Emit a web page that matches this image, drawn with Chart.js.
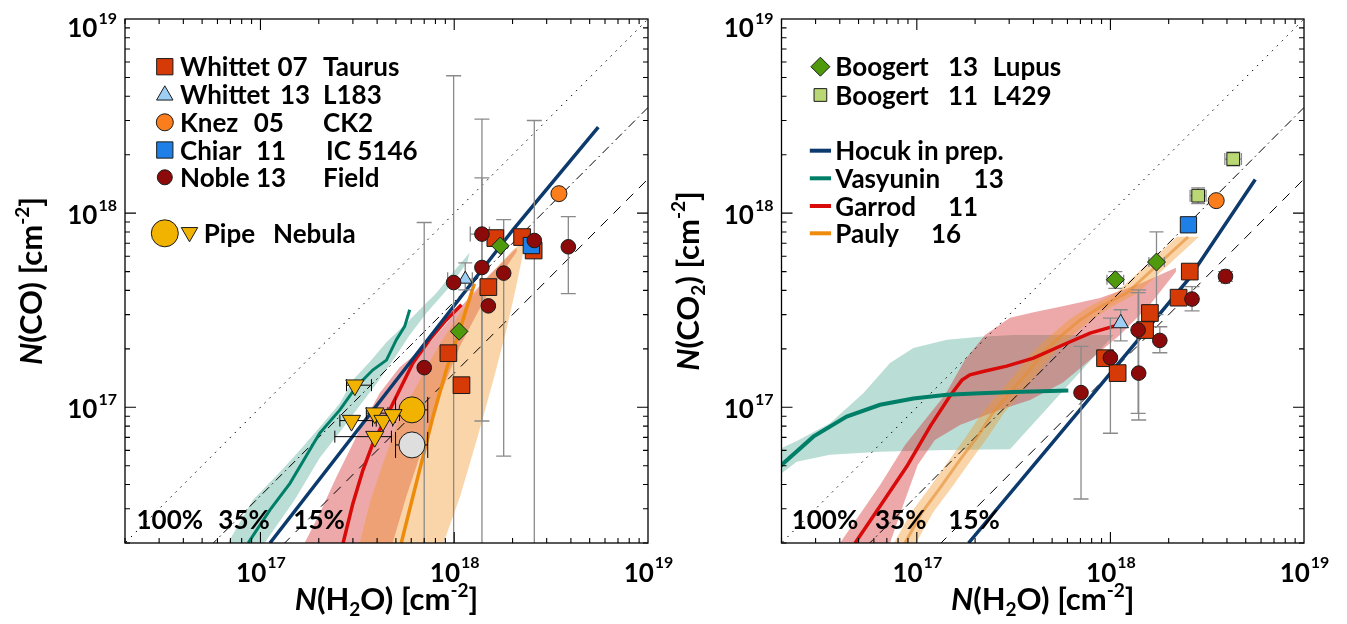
<!DOCTYPE html>
<html>
<head>
<meta charset="utf-8">
<script src="https://cdn.jsdelivr.net/npm/chart.js@4.4.1/dist/chart.umd.min.js"></script>
<style>
  html, body { margin: 0; padding: 0; background: #fff; }
  #wrap { position: relative; width: 1347px; height: 624px; overflow: hidden; }
  canvas { position: absolute; top: 0; }
  #chart-co { left: 0; }
  #chart-co2 { left: 660px; }
</style>
</head>
<body>
<div id="wrap">
  <canvas id="chart-co" width="690" height="624"></canvas>
  <canvas id="chart-co2" width="687" height="624"></canvas>
</div>
<script>
'use strict';

// both panels: log axes, same range
var axisMin = 2e16, axisMax = 1e19;
var tickValues = [1e17, 1e18, 1e19];
var tickExps = ['17', '18', '19'];

// reference lines N(X) = 100%, 35%, 15% of N(H2O)
var ratioX = [1e16, 1e19];
var ratio100 = [1e16, 1e19];
var ratio35 = [3.5e15, 3.5e18];
var ratio15 = [1.5e15, 1.5e18];
var ratioLabels = ['100%', '35%', '15%'];

// ---------- left panel: N(CO) vs N(H2O) ----------
var whittet07Co = [[1.63e18, 7.44e17], [2.24e18, 7.53e17], [2.57e18, 6.42e17], [1.50e18, 4.16e17], [9.33e17, 1.90e17], [1.09e18, 1.30e17]];
var whittet13Co = [[1.14e18, 4.57e17]];
var whittet13CoErrY = [[4.03e17, 5.55e17]];
var whittet13CoErrX = [[9.25e17, 1.24e18]];
var knezCo = [[3.47e18, 1.26e18]];
var chiarCo = [[2.50e18, 6.81e17]];
var nobleCo = [[1.39e18, 7.80e17], [2.59e18, 7.23e17], [3.88e18, 6.71e17], [1.39e18, 5.25e17], [1.80e18, 4.91e17], [9.93e17, 4.39e17], [1.50e18, 3.33e17], [7.0e17, 1.60e17]];
var nobleCoErrY = [[8.5e16, 1.52e18], [1e16, 3.0e18], [3.85e17, 9.6e17], [1e16, 3.05e18], [5.6e16, 9.25e17], [1e16, 5.1e18], null, [1e16, 8.95e17]];
var nobleCoErrX = [[1.21e18, 1.52e18], null, null, null, null, null, null, null];
var boogert13Co = [[1.73e18, 6.79e17], [1.06e18, 2.46e17]];
var pipeCo = [[6.05e17, 9.7e16]];
var pipeCoGrey = [[6.05e17, 6.40e16]];
var pipeCoErrX = [[4.98e17, 7.3e17]];
var pipeTriCo = [[3.07e17, 1.30e17], [2.95e17, 8.54e16], [3.89e17, 9.33e16], [4.29e17, 8.54e16], [4.83e17, 9.14e16], [3.89e17, 7.06e16]];
var pipeTriCoErrX = [[2.78e17, 3.74e17], [2.57e17, 3.96e17], [3.52e17, 4.55e17], [3.79e17, 4.81e17], [4.47e17, 5.22e17], [2.42e17, 4.74e17]];

var hocukCo = [[1.12e17, 2.0e16], [2.01e18, 8.21e17], [5.54e18, 2.77e18]];
var vasyuninCo = [[8.64e16, 2.0e16], [1.12e17, 2.96e16], [1.42e17, 4.06e16], [2.02e17, 7.35e16], [2.57e17, 9.7e16], [3.13e17, 1.28e17], [3.81e17, 1.56e17], [4.47e17, 1.75e17], [5.03e17, 2.23e17], [5.55e17, 2.61e17], [5.89e17, 3.18e17]];
var garrodCo = [[2.67e17, 2.0e16], [3.0e17, 3.2e16], [3.38e17, 4.75e16], [3.81e17, 6.53e16], [4.47e17, 8.95e16], [5.23e17, 1.23e17], [6.12e17, 1.69e17], [7.46e17, 2.23e17], [9.10e17, 2.82e17], [1.09e18, 3.37e17]];
var paulyCo = [[5.33e17, 2.0e16], [6.12e17, 3.47e16], [6.90e17, 5.57e16], [7.77e17, 8.95e16], [9.10e17, 1.56e17], [1.07e18, 2.51e17], [1.18e18, 3.44e17], [1.27e18, 4.33e17]];

// model spreads, outline traced round each shaded area
var vasyuninCoBand = [[6.79e16, 2.0e16], [9.14e16, 3.33e16], [1.29e17, 4.75e16], [1.60e17, 6.03e16], [2.07e17, 8.11e16], [2.57e17, 1.05e17], [2.99e17, 1.38e17], [3.66e17, 1.71e17], [4.48e17, 2.17e17], [5.68e17, 2.72e17], [6.63e17, 3.18e17], [8.11e17, 3.89e17], [9.81e17, 4.93e17], [1.20e18, 6.25e17],
  [1.17e18, 5.61e17], [9.47e17, 4.18e17], [7.21e17, 3.07e17], [5.89e17, 2.36e17], [4.93e17, 1.80e17], [4.03e17, 1.35e17], [3.25e17, 1.02e17], [2.57e17, 7.46e16], [2.02e17, 5.48e16], [1.50e17, 3.33e16], [1.05e17, 2.0e16]];
var garrodCoBand = [[1.69e17, 2.0e16], [2.02e17, 2.84e16], [2.47e17, 4.39e16], [3.25e17, 7.64e16], [4.12e17, 1.18e17], [5.23e17, 1.61e17], [7.46e17, 2.15e17], [1.07e18, 3.25e17], [1.52e18, 4.81e17], [2.10e18, 6.63e17],
  [2.10e18, 6.32e17], [1.46e18, 3.72e17], [1.07e18, 2.06e17], [8.41e17, 1.14e17], [6.90e17, 6.27e16], [5.66e17, 3.47e16], [4.81e17, 2.0e16]];
var paulyCoBand = [[3.25e17, 2.0e16], [3.66e17, 3.21e16], [4.29e17, 5.15e16], [5.23e17, 8.95e16], [6.63e17, 1.38e17], [8.08e17, 1.98e17], [1.07e18, 3.07e17], [1.46e18, 4.54e17], [2.01e18, 6.47e17], [2.22e18, 6.95e17],
  [2.31e18, 6.79e17], [2.07e18, 4.03e17], [1.86e18, 2.51e17], [1.61e18, 1.44e17], [1.32e18, 7.03e16], [1.07e18, 3.45e16], [8.81e17, 2.0e16]];

// ---------- right panel: N(CO2) vs N(H2O) ----------
var whittet07Co2 = [[2.57e18, 5.0e17], [2.25e18, 3.67e17], [1.60e18, 3.06e17], [1.51e18, 2.5e17], [9.38e17, 1.79e17], [1.09e18, 1.50e17]];
var whittet13Co2 = [[1.13e18, 2.71e17]];
var whittet13Co2ErrY = [[2.2e17, 3.18e17]];
var knezCo2 = [[3.52e18, 1.16e18]];
var chiarCo2 = [[2.53e18, 8.71e17]];
var nobleCo2 = [[3.93e18, 4.72e17], [2.64e18, 3.61e17], [1.39e18, 2.5e17], [1.80e18, 2.21e17], [1.00e18, 1.80e17], [1.40e18, 1.50e17], [7.05e17, 1.19e17]];
var nobleCo2ErrY = [[4.45e17, 5.0e17], [3.14e17, 4.18e17], [9.3e16, 3.9e17], [1.91e17, 2.6e17], [7.35e16, 2.88e17], [8.6e16, 4.03e17], [3.37e16, 2.06e17]];
var nobleCo2ErrX = [[3.75e18, 4.12e18], null, null, null, null, null, null];
var boogert13Co2 = [[1.73e18, 5.6e17], [1.06e18, 4.54e17]];
var boogert13Co2ErrY = [[3.0e17, 8.0e17], [4.1e17, 5.0e17]];
var boogert13Co2ErrX = [[1.58e18, 1.9e18], [9.6e17, 1.17e18]];
var boogert11Co2 = [[4.31e18, 1.90e18], [2.84e18, 1.23e18]];
var boogert11Co2ErrY = [[1.75e18, 2.06e18], [1.12e18, 1.35e18]];
var boogert11Co2ErrX = [[3.9e18, 4.75e18], [2.58e18, 3.12e18]];

var hocukCo2 = [[1.85e17, 2.0e16], [6.96e17, 9.7e16], [2.52e18, 4.54e17], [5.6e18, 1.49e18]];
var vasyuninCo2 = [[1.96e16, 4.95e16], [2.92e16, 7.06e16], [4.34e16, 8.95e16], [6.46e16, 1.03e17], [9.6e16, 1.11e17], [1.43e17, 1.16e17], [2.12e17, 1.18e17], [3.15e17, 1.20e17], [6.06e17, 1.22e17]];
var garrodCo2 = [[4.80e16, 2.0e16], [6.44e16, 3.08e16], [8.87e16, 4.95e16], [1.17e17, 7.95e16], [1.48e17, 1.14e17], [1.71e17, 1.38e17], [1.88e17, 1.47e17], [2.20e17, 1.53e17], [2.91e17, 1.63e17], [4.0e17, 1.79e17], [5.71e17, 2.10e17], [7.85e17, 2.41e17], [1.08e18, 2.64e17]];
var paulyCo2 = [[8.69e16, 2.0e16], [1.06e17, 2.86e16], [1.33e17, 3.89e16], [1.67e17, 5.36e16], [2.05e17, 7.03e16], [2.47e17, 9.35e16], [3.03e17, 1.19e17], [3.71e17, 1.50e17], [4.49e17, 1.91e17], [5.49e17, 2.31e17], [6.98e17, 2.82e17], [8.85e17, 3.29e17], [1.22e18, 3.89e17], [2.52e18, 7.55e17]];

var vasyuninCo2Band = [[1.9e16, 6.03e16], [2.40e16, 6.71e16], [3.56e16, 8.28e16], [5.29e16, 1.18e17], [7.27e16, 1.69e17], [9.6e16, 2.02e17], [1.43e17, 2.23e17], [2.12e17, 2.31e17], [3.15e17, 2.36e17], [5.94e17, 2.36e17], [1.04e18, 2.36e17],
  [3.03e17, 6.08e16], [1.43e17, 6.03e16], [6.46e16, 5.91e16], [3.56e16, 5.69e16], [2.40e16, 5.25e16], [1.9e16, 4.39e16]];
var garrodCo2Band = [[4.01e16, 2.0e16], [6.46e16, 3.98e16], [8.69e16, 6.40e16], [1.10e17, 8.61e16], [1.40e17, 1.16e17], [1.77e17, 1.75e17], [2.25e17, 2.36e17], [3.03e17, 2.89e17], [4.07e17, 3.10e17], [5.82e17, 3.33e17], [8.83e17, 3.66e17], [1.42e18, 4.33e17], [2.18e18, 5.23e17],
  [2.18e18, 4.99e17], [1.60e18, 3.37e17], [1.12e18, 2.36e17], [7.85e17, 1.75e17], [5.69e17, 1.34e17], [3.85e17, 1.09e17], [2.69e17, 9.7e16], [1.67e17, 8.11e16], [1.24e17, 6.79e16], [1.01e17, 5.05e16], [8.69e16, 3.33e16], [7.27e16, 2.0e16]];
var paulyCo2Band = [[7.62e16, 2.0e16], [9.33e16, 2.86e16], [1.17e17, 3.89e16], [1.47e17, 5.36e16], [1.79e17, 7.03e16], [2.17e17, 9.35e16], [2.66e17, 1.19e17], [3.25e17, 1.50e17], [3.94e17, 1.91e17], [4.82e17, 2.31e17], [6.07e17, 2.82e17], [7.69e17, 3.29e17], [1.07e18, 3.89e17], [2.21e18, 7.55e17],
  [2.87e18, 7.55e17], [1.39e18, 3.89e17], [1.01e18, 3.29e17], [7.94e17, 2.82e17], [6.25e17, 2.31e17], [5.12e17, 1.91e17], [4.23e17, 1.50e17], [3.45e17, 1.19e17], [2.82e17, 9.35e16], [2.33e17, 7.03e16], [1.91e17, 5.36e16], [1.52e17, 3.89e16], [1.21e17, 2.86e16], [9.91e16, 2.0e16]];

// colours
var colWhittet07 = '#D63A06', colWhittet13 = '#9DCFF5', colKnez = '#FB7D1C', colChiar = '#1E80E6', colNoble = '#8C0A0A';
var colBoogert13 = '#4F9A0C', colBoogert11 = '#B9D873', colPipe = '#F2B300', colPipeGrey = '#DEDEDE';
var colHocuk = '#0D3A6C', colVasyunin = '#007F68', colGarrod = '#D80A0A', colPauly = '#EE8A0C';

var FONT = 'Lato, "DejaVu Sans", sans-serif';

function xy(pairs) {
  return pairs.map(function(p) { return {x: p[0], y: p[1]}; });
}
function zip(xs, ys) {
  return xs.map(function(x, i) { return [x, ys[i]]; });
}

function marks(label, pairs, style, color, radius, rot) {
  return {
    label: label, data: xy(pairs), showLine: false,
    pointStyle: style, pointRadius: radius, pointRotation: rot || 0,
    pointBackgroundColor: color, pointBorderColor: '#1a1a1a', pointBorderWidth: 1,
    order: 1
  };
}
function curve(label, pairs, color, width) {
  return {label: label, data: xy(pairs), borderColor: color, borderWidth: width, pointRadius: 0, fill: false, order: 3};
}
function band(label, pairs, color) {
  return {label: label, data: xy(pairs), borderColor: 'rgba(0,0,0,0)', borderWidth: 0, backgroundColor: color, pointRadius: 0, fill: 'shape', order: 5};
}
function ratioLine(label, ys, dash) {
  return {label: label, data: xy(zip(ratioX, ys)), borderColor: '#000', borderWidth: 1, borderDash: dash, pointRadius: 0, fill: false, order: 4};
}

function symbol(ctx, style, color, r, rot, x, y) {
  ctx.fillStyle = color;
  ctx.strokeStyle = '#1a1a1a';
  ctx.lineWidth = 1;
  Chart.helpers.drawPoint(ctx, {pointStyle: style, radius: r, rotation: rot || 0, borderWidth: 1}, x, y);
}

// draw a run of text pieces: [text, kind], kind '' | 'i' | 'sup' | 'sub'
function richText(ctx, parts, x, y, size) {
  function font(kind) {
    var s = (kind === 'sup' || kind === 'sub') ? Math.round(size * 0.6) : size;
    return (kind === 'i' ? 'italic ' : '') + 'bold ' + s + 'px ' + FONT;
  }
  var widths = parts.map(function(p) { ctx.font = font(p[1]); return ctx.measureText(p[0]).width; });
  var total = widths.reduce(function(s, w) { return s + w; }, 0);
  var cx = x - total / 2;
  ctx.textAlign = 'left';
  ctx.textBaseline = 'alphabetic';
  parts.forEach(function(p, i) {
    ctx.font = font(p[1]);
    var dy = p[1] === 'sup' ? -size * 0.42 : (p[1] === 'sub' ? size * 0.2 : 0);
    ctx.fillText(p[0], cx, y + dy);
    cx += widths[i];
  });
}

function drawErrBars(chart, sets) {
  var ctx = chart.ctx, a = chart.chartArea, xs = chart.scales.x, ys = chart.scales.y;
  ctx.save();
  ctx.beginPath();
  ctx.rect(a.left, a.top, a.right - a.left, a.bottom - a.top);
  ctx.clip();
  sets.forEach(function(s) {
    ctx.strokeStyle = s.color;
    ctx.lineWidth = s.width;
    s.points.forEach(function(p, i) {
      var px = xs.getPixelForValue(p[0]), py = ys.getPixelForValue(p[1]);
      var ey = s.errY ? s.errY[i] : null, ex = s.errX ? s.errX[i] : null;
      ctx.beginPath();
      if (ey) {
        var y0 = ys.getPixelForValue(ey[0]), y1 = ys.getPixelForValue(ey[1]);
        ctx.moveTo(px, y0); ctx.lineTo(px, y1);
        ctx.moveTo(px - s.cap, y0); ctx.lineTo(px + s.cap, y0);
        ctx.moveTo(px - s.cap, y1); ctx.lineTo(px + s.cap, y1);
      }
      if (ex) {
        var x0 = xs.getPixelForValue(ex[0]), x1 = xs.getPixelForValue(ex[1]);
        var c = s.capX || s.cap;
        ctx.moveTo(x0, py); ctx.lineTo(x1, py);
        ctx.moveTo(x0, py - c); ctx.lineTo(x0, py + c);
        ctx.moveTo(x1, py - c); ctx.lineTo(x1, py + c);
      }
      ctx.stroke();
    });
  });
  ctx.restore();
}

function drawFrame(chart, cfg) {
  var ctx = chart.ctx, a = chart.chartArea, xs = chart.scales.x, ys = chart.scales.y;
  ctx.save();
  ctx.strokeStyle = '#000';
  ctx.lineWidth = 1.3;
  ctx.strokeRect(a.left, a.top, a.right - a.left, a.bottom - a.top);

  // inward ticks on all four sides
  ctx.lineWidth = 1.1;
  ctx.beginPath();
  for (var d = 16; d <= 18; d++) {
    for (var m = 1; m <= 9; m++) {
      var v = m * Math.pow(10, d);
      if (v < axisMin * 0.999 || v > axisMax * 1.001) continue;
      var len = m === 1 ? 11 : 5;
      var px = xs.getPixelForValue(v), py = ys.getPixelForValue(v);
      ctx.moveTo(px, a.bottom); ctx.lineTo(px, a.bottom - len);
      ctx.moveTo(px, a.top); ctx.lineTo(px, a.top + len);
      ctx.moveTo(a.left, py); ctx.lineTo(a.left + len, py);
      ctx.moveTo(a.right, py); ctx.lineTo(a.right - len, py);
    }
  }
  ctx.stroke();

  // decade labels 10^n
  ctx.fillStyle = '#000';
  ctx.textBaseline = 'alphabetic';
  var baseFont = 'bold 26px ' + FONT, supFont = 'bold 16px ' + FONT;
  tickValues.forEach(function(v, i) {
    ctx.font = baseFont;
    var wb = ctx.measureText('10').width;
    ctx.font = supFont;
    var ws = ctx.measureText(tickExps[i]).width;
    var px = xs.getPixelForValue(v);
    var x0 = px - (wb + ws) / 2;
    ctx.textAlign = 'left';
    ctx.font = baseFont; ctx.fillText('10', x0, a.bottom + 39);
    ctx.font = supFont; ctx.fillText(tickExps[i], x0 + wb + 1, a.bottom + 25);

    var py = ys.getPixelForValue(v);
    var base = Math.max(py + 11, a.top + 18);
    var xr = a.left - 8;
    ctx.font = supFont; ctx.fillText(tickExps[i], xr - ws, base - 13);
    ctx.font = baseFont; ctx.fillText('10', xr - ws - wb - 1, base);
  });

  // axis titles
  richText(ctx, [['N', 'i'], ['(H', ''], ['2', 'sub'], ['O) [cm', ''], ['-2', 'sup'], [']', '']], (a.left + a.right) / 2, a.bottom + 67, 31);
  ctx.save();
  ctx.translate(a.left - 83, (a.top + a.bottom) / 2);
  ctx.rotate(-Math.PI / 2);
  richText(ctx, cfg.yTitle, 0, 0, 31);
  ctx.restore();

  // ratio line labels
  ctx.font = 'bold 26px ' + FONT;
  ctx.textAlign = 'left';
  ratioLabels.forEach(function(t, i) {
    ctx.fillText(t, a.left + cfg.ratioLabelX[i], a.bottom - 14);
  });

  // legend
  cfg.legend.forEach(function(it) {
    var y = a.top + it.dy;
    if (it.line) {
      ctx.strokeStyle = it.color;
      ctx.lineWidth = 4;
      ctx.beginPath();
      ctx.moveTo(a.left + it.line[0], y); ctx.lineTo(a.left + it.line[1], y);
      ctx.stroke();
    }
    (it.syms || []).forEach(function(s) {
      symbol(ctx, s.style, s.color, s.r, s.rot, a.left + s.dx, y + (s.dy || 0));
    });
    ctx.fillStyle = '#000';
    ctx.font = 'bold 26px ' + FONT;
    ctx.textAlign = 'left';
    it.parts.forEach(function(p) { ctx.fillText(p[0], a.left + p[1], y + 9.5); });
  });
  ctx.restore();
}

function makePanel(id, padLeft, padRight, datasets, errSets, cfg) {
  datasets.push({label: 'errbars', data: [], order: 2});
  var panelPlugin = {
    id: 'panel-' + id,
    afterDatasetDraw: function(chart, args) {
      if (chart.data.datasets[args.index].label === 'errbars') drawErrBars(chart, errSets);
    },
    afterDraw: function(chart) { drawFrame(chart, cfg); }
  };
  return new Chart(document.getElementById(id).getContext('2d'), {
    type: 'line',
    data: {datasets: datasets},
    options: {
      responsive: false,
      animation: false,
      events: [],
      layout: {padding: {left: padLeft, right: padRight, top: 19, bottom: 81}},
      elements: {line: {tension: 0}},
      scales: {
        x: {type: 'logarithmic', min: axisMin, max: axisMax, display: false},
        y: {type: 'logarithmic', min: axisMin, max: axisMax, display: false}
      },
      plugins: {legend: {display: false}, tooltip: {enabled: false}}
    },
    plugins: [panelPlugin]
  });
}

// ---------- left panel ----------
makePanel('chart-co', 125, 42, [
  marks('Noble 13', nobleCo, 'circle', colNoble, 7.3),
  marks('Chiar 11', chiarCo, 'rect', colChiar, 11.5),
  marks('Knez 05', knezCo, 'circle', colKnez, 8),
  marks('Whittet 13', whittet13Co, 'triangle', colWhittet13, 8),
  marks('Boogert 13', boogert13Co, 'rectRot', colBoogert13, 8.8),
  marks('Whittet 07', whittet07Co, 'rect', colWhittet07, 11.8),
  marks('Pipe tri', pipeTriCo, 'triangle', colPipe, 10.5, 180),
  marks('Pipe', pipeCo, 'circle', colPipe, 13),
  marks('Pipe grey', pipeCoGrey, 'circle', colPipeGrey, 13),
  curve('Hocuk', hocukCo, colHocuk, 3.5),
  curve('Vasyunin', vasyuninCo, colVasyunin, 3),
  curve('Garrod', garrodCo, colGarrod, 3.5),
  curve('Pauly', paulyCo, colPauly, 3.5),
  ratioLine('100%', ratio100, [1.5, 5.5]),
  ratioLine('35%', ratio35, [9, 4, 1.5, 4]),
  ratioLine('15%', ratio15, [10, 8]),
  band('Pauly band', paulyCoBand, 'rgba(240,150,40,0.4)'),
  band('Garrod band', garrodCoBand, 'rgba(210,40,40,0.4)'),
  band('Vasyunin band', vasyuninCoBand, 'rgba(0,128,100,0.27)')
], [
  {points: nobleCo, errY: nobleCoErrY, errX: nobleCoErrX, color: '#8a8a8a', width: 1.3, cap: 7.5},
  {points: whittet13Co, errY: whittet13CoErrY, errX: whittet13CoErrX, color: '#8a8a8a', width: 1.3, cap: 7},
  {points: pipeTriCo, errX: pipeTriCoErrX, color: '#000', width: 1, cap: 6},
  {points: pipeCo, errX: pipeCoErrX, color: '#000', width: 1, cap: 13},
  {points: pipeCoGrey, errX: pipeCoErrX, color: '#000', width: 1, cap: 13}
], {
  yTitle: [['N', 'i'], ['(CO) [cm', ''], ['-2', 'sup'], [']', '']],
  ratioLabelX: [11.5, 93.3, 168.3],
  legend: [
    {dy: 47.7, syms: [{style: 'rect', color: colWhittet07, r: 11.5, dx: 39.8}], parts: [['Whittet', 55], ['07', 152.5], ['Taurus', 198]]},
    {dy: 75.3, syms: [{style: 'triangle', color: colWhittet13, r: 9.5, dx: 39.8, dy: 1}], parts: [['Whittet', 55], ['13', 155], ['L183', 198]]},
    {dy: 103.3, syms: [{style: 'circle', color: colKnez, r: 8.5, dx: 39.8}], parts: [['Knez', 55], ['05', 128.7], ['CK2', 198]]},
    {dy: 131, syms: [{style: 'rect', color: colChiar, r: 11.5, dx: 39.8}], parts: [['Chiar', 55], ['11', 131], ['IC 5146', 201]]},
    {dy: 158.3, syms: [{style: 'circle', color: colNoble, r: 7.5, dx: 39.8}], parts: [['Noble', 55], ['13', 131], ['Field', 198]]},
    {dy: 214.3, syms: [{style: 'circle', color: colPipe, r: 13.5, dx: 39.8}, {style: 'triangle', color: colPipe, r: 9.5, rot: 180, dx: 64.5, dy: -1}], parts: [['Pipe', 78.8], ['Nebula', 148]]}
  ]
});

// ---------- right panel ----------
makePanel('chart-co2', 121.5, 43, [
  marks('Noble 13', nobleCo2, 'circle', colNoble, 7.3),
  marks('Chiar 11', chiarCo2, 'rect', colChiar, 11.5),
  marks('Knez 05', knezCo2, 'circle', colKnez, 8),
  marks('Whittet 13', whittet13Co2, 'triangle', colWhittet13, 9),
  marks('Boogert 13', boogert13Co2, 'rectRot', colBoogert13, 9),
  marks('Boogert 11', boogert11Co2, 'rect', colBoogert11, 9),
  marks('Whittet 07', whittet07Co2, 'rect', colWhittet07, 11.8),
  curve('Hocuk', hocukCo2, colHocuk, 3.5),
  curve('Vasyunin', vasyuninCo2, colVasyunin, 4),
  curve('Garrod', garrodCo2, colGarrod, 3.5),
  curve('Pauly', paulyCo2, 'rgba(232,140,50,0.6)', 3),
  ratioLine('100%', ratio100, [1.5, 5.5]),
  ratioLine('35%', ratio35, [9, 4, 1.5, 4]),
  ratioLine('15%', ratio15, [10, 8]),
  band('Pauly band', paulyCo2Band, 'rgba(240,150,40,0.4)'),
  band('Garrod band', garrodCo2Band, 'rgba(210,40,40,0.4)'),
  band('Vasyunin band', vasyuninCo2Band, 'rgba(0,128,100,0.27)')
], [
  {points: nobleCo2, errY: nobleCo2ErrY, errX: nobleCo2ErrX, color: '#8a8a8a', width: 1.3, cap: 7.5},
  {points: whittet13Co2, errY: whittet13Co2ErrY, color: '#8a8a8a', width: 1.3, cap: 7},
  {points: boogert13Co2, errY: boogert13Co2ErrY, errX: boogert13Co2ErrX, color: '#8a8a8a', width: 1.3, cap: 7, capX: 5},
  {points: boogert11Co2, errY: boogert11Co2ErrY, errX: boogert11Co2ErrX, color: '#8a8a8a', width: 1.3, cap: 7, capX: 6}
], {
  yTitle: [['N', 'i'], ['(CO', ''], ['2', 'sub'], [') [cm', ''], ['-2', 'sup'], [']', '']],
  ratioLabelX: [10.2, 93.5, 166.8],
  legend: [
    {dy: 47.7, syms: [{style: 'rectRot', color: colBoogert13, r: 9.5, dx: 38.9}], parts: [['Boogert', 53.8], ['13', 166.5], ['Lupus', 211.3]]},
    {dy: 76, syms: [{style: 'rect', color: colBoogert11, r: 9, dx: 38.9}], parts: [['Boogert', 53.8], ['11', 166.5], ['L429', 211.3]]},
    {dy: 131.7, line: [28.3, 49.5], color: colHocuk, parts: [['Hocuk in prep.', 53.8]]},
    {dy: 159.3, line: [28.3, 49.5], color: colVasyunin, parts: [['Vasyunin', 53.8], ['13', 192.1]]},
    {dy: 187, line: [28.3, 49.5], color: colGarrod, parts: [['Garrod', 53.8], ['11', 166.5]]},
    {dy: 214.3, line: [28.3, 49.5], color: colPauly, parts: [['Pauly', 53.8], ['16', 149.5]]}
  ]
});
</script>
</body>
</html>
